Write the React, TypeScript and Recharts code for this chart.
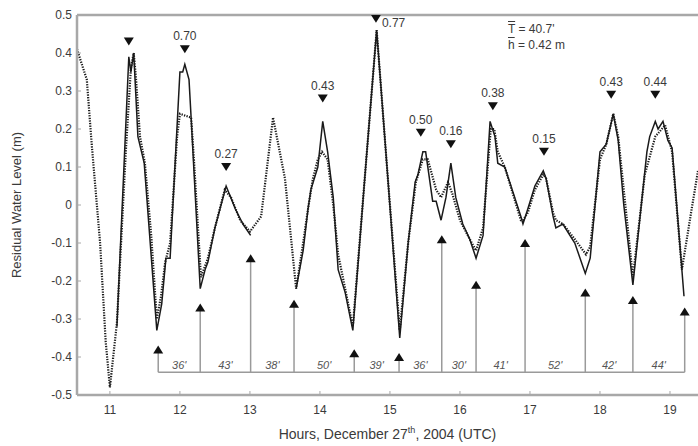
import React from "react";
import {
  ComposedChart, Line, Scatter, XAxis, YAxis, ReferenceLine, Label
} from "recharts";

// observed residual water level (solid), null = gap in record
const obsHours = [
  11.10, 11.27, 11.30, 11.34, 11.40, 11.49, 11.67, 11.74, 11.80, 11.86, 12.00, 12.04, 12.07, 12.13,
  12.16, 12.29, 12.36, 12.40, 12.50, 12.66, 12.79, 12.90, 13.01, 13.30, 13.66, 13.76, 13.83, 13.87,
  13.97, 14.04, 14.11, 14.19, 14.26, 14.36, 14.47, 14.64, 14.81, 14.97, 15.14, 15.26, 15.36, 15.40,
  15.47, 15.51, 15.61, 15.66, 15.73, 15.80, 15.87, 15.94, 16.04, 16.14, 16.23, 16.33, 16.43, 16.50,
  16.54, 16.64, 16.87, 16.90, 16.97, 17.07, 17.19, 17.23, 17.33, 17.37, 17.47, 17.57, 17.64, 17.79,
  17.86, 18.00, 18.09, 18.19, 18.26, 18.34, 18.47, 18.67, 18.71, 18.79, 18.83, 18.90, 18.97, 19.03,
  19.20
];
const obsLevel = [
  -0.32, 0.39, 0.35, 0.40, 0.18, 0.11, -0.33, -0.26, -0.14, -0.14, 0.35, 0.35, 0.37, 0.33,
  0.23, -0.22, -0.17, -0.15, -0.06, 0.05, -0.01, -0.05, -0.08, null, -0.22, -0.12, -0.01, 0.04,
  0.10, 0.22, 0.14, 0.02, -0.17, -0.23, -0.33, 0.07, 0.46, 0.07, -0.35, -0.10, 0.06, 0.08,
  0.14, 0.14, 0.01, 0.01, -0.04, 0.02, 0.11, 0.02, -0.05, -0.09, -0.14, -0.08, 0.22, 0.18,
  0.11, 0.10, -0.03, -0.05, -0.01, 0.05, 0.09, 0.07, -0.03, -0.06, -0.05, -0.08, -0.10, -0.18,
  -0.14, 0.14, 0.16, 0.24, 0.17, 0.00, -0.21, 0.14, 0.18, 0.22, 0.20, 0.22, 0.17, 0.15,
  -0.24
];

// modelled residual water level (dotted)
const modelHours = [
  10.53, 10.67, 10.74, 10.86, 10.94, 11.00, 11.10, 11.23, 11.30, 11.34, 11.37, 11.43, 11.50, 11.59,
  11.67, 11.73, 11.79, 11.86, 11.96, 12.00, 12.16, 12.20, 12.30, 12.40, 12.50, 12.64, 12.73, 12.86,
  13.00, 13.16, 13.33, 13.50, 13.66, 13.76, 13.83, 13.90, 13.97, 14.03, 14.11, 14.19, 14.26, 14.36,
  14.47, 14.64, 14.81, 14.97, 15.14, 15.26, 15.37, 15.47, 15.54, 15.66, 15.73, 15.83, 15.89, 16.00,
  16.14, 16.23, 16.33, 16.44, 16.49, 16.54, 16.64, 16.87, 16.90, 16.97, 17.07, 17.19, 17.23, 17.33,
  17.37, 17.47, 17.64, 17.80, 17.86, 18.00, 18.09, 18.19, 18.26, 18.47, 18.64, 18.79, 18.93, 19.03,
  19.17, 19.31, 19.40
];
const modelLevel = [
  0.41, 0.33, 0.16, -0.10, -0.36, -0.48, -0.31, 0.15, 0.36, 0.40, 0.34, 0.18, 0.11, -0.08,
  -0.30, -0.24, -0.15, -0.10, 0.18, 0.24, 0.23, 0.12, -0.19, -0.14, -0.06, 0.04, 0.02, -0.04,
  -0.07, -0.03, 0.23, 0.07, -0.22, -0.10, -0.01, 0.07, 0.12, 0.14, 0.12, 0.00, -0.13, -0.22,
  -0.32, 0.07, 0.46, 0.07, -0.33, -0.10, 0.06, 0.12, 0.12, 0.04, 0.02, 0.06, 0.03, -0.04,
  -0.09, -0.12, -0.06, 0.20, 0.20, 0.14, 0.10, -0.04, -0.04, -0.02, 0.04, 0.08, 0.07, -0.02,
  -0.04, -0.05, -0.09, -0.13, -0.11, 0.12, 0.16, 0.24, 0.18, -0.19, 0.08, 0.18, 0.21, 0.14,
  -0.17, -0.01, 0.09
];

// crest markers and wave heights (m)
const crestHours = [11.27, 12.07, 12.66, 14.04, 14.80, 15.44, 15.87, 16.47, 17.20, 18.16, 18.79];
const crestLevel = [0.43, 0.41, 0.10, 0.28, 0.49, 0.19, 0.16, 0.26, 0.14, 0.29, 0.29];
const crestLabels = ["", "0.70", "0.27", "0.43", "0.77", "0.50", "0.16", "0.38", "0.15", "0.43", "0.44"];

// trough markers and periods (minutes)
const troughHours = [11.69, 12.29, 13.01, 13.63, 14.49, 15.13, 15.74, 16.23, 16.93, 17.79, 18.47, 19.21];
const troughLevel = [-0.38, -0.27, -0.14, -0.26, -0.39, -0.40, -0.09, -0.21, -0.10, -0.23, -0.25, -0.28];
const periodLabels = ["36'", "43'", "38'", "50'", "39'", "36'", "30'", "41'", "52'", "42'", "44'"];
const periodBase = -0.44;

const yTicks = [-0.5, -0.4, -0.3, -0.2, -0.1, 0, 0.1, 0.2, 0.3, 0.4, 0.5];
const xTicks = [11, 12, 13, 14, 15, 16, 17, 18, 19];

const obsData = obsHours.map((h, i) => ({ h, v: obsLevel[i] }));
const modelData = modelHours.map((h, i) => ({ h, v: modelLevel[i] }));
const crestData = crestHours.map((h, i) => ({ h, v: crestLevel[i], label: crestLabels[i], side: crestLabels[i] === "0.77" ? "right" : "top" }));
const troughData = troughHours.map((h, i) => ({ h, v: troughLevel[i] }));
const periodData = periodLabels.map((label, i) => ({ h: (troughHours[i] + troughHours[i + 1]) / 2, v: periodBase, label }));

const FONT = "'Liberation Sans', Arial, sans-serif";
const AXIS = "#a8a8a8";
const TXT = "#3a3a3a";

const CrestMark = (props: any) => {
  const { cx, cy, payload } = props;
  return (
    <g>
      <path d={`M${cx - 5},${cy - 4}L${cx + 5},${cy - 4}L${cx},${cy + 4}Z`} fill="#111" />
      {payload.label ? (
        payload.side === "right" ? (
          <text x={cx + 6} y={cy + 8} fontSize={12} fill={TXT} fontFamily={FONT}>{payload.label}</text>
        ) : (
          <text x={cx} y={cy - 9} fontSize={12} fill={TXT} fontFamily={FONT} textAnchor="middle">{payload.label}</text>
        )
      ) : null}
    </g>
  );
};

const TroughMark = (props: any) => {
  const { cx, cy } = props;
  return <path d={`M${cx - 5},${cy + 4}L${cx + 5},${cy + 4}L${cx},${cy - 4}Z`} fill="#111" />;
};

const PeriodText = (props: any) => {
  const { cx, cy, payload } = props;
  return (
    <text x={cx} y={cy - 3} fontSize={11} fill="#555" fontStyle="italic" fontFamily={FONT} textAnchor="middle">
      {payload.label}
    </text>
  );
};

// tick labels with small inward tick marks
const YTick = (props: any) => {
  const { x, y, payload } = props;
  const t = payload.value;
  return (
    <g>
      <line x1={x + 5} x2={x + 9} y1={y} y2={y} stroke={AXIS} strokeWidth={1} />
      <text x={x} y={y} dy="0.35em" textAnchor="end" fontSize={12} fill={TXT} fontFamily={FONT}>
        {t === 0 ? "0" : t.toFixed(1)}
      </text>
    </g>
  );
};

const XTick = (props: any) => {
  const { x, y, payload } = props;
  return (
    <g>
      <line x1={x} x2={x} y1={y - 10} y2={y - 14} stroke={AXIS} strokeWidth={1} />
      <text x={x} y={y} dy="0.71em" textAnchor="middle" fontSize={12} fill={TXT} fontFamily={FONT}>
        {payload.value}
      </text>
    </g>
  );
};

const XTitle = (props: any) => {
  const vb = props.viewBox || {};
  const x = vb.x + vb.width / 2;
  return (
    <text x={x} y={439} fontSize={14} fill={TXT} fontFamily={FONT} textAnchor="middle">
      Hours, December 27<tspan fontSize={9} dy={-6}>th</tspan><tspan dy={6}>, 2004 (UTC)</tspan>
    </text>
  );
};

export default function App() {
  return (
    <div style={{ position: "absolute", left: 0, top: 0, width: 698, height: 446, background: "#fff", fontFamily: FONT }}>
      <ComposedChart width={698} height={446} margin={{ top: 15, right: 0, bottom: 21, left: 30 }}>
        <XAxis
          dataKey="h"
          type="number"
          domain={[10.53, 19.4]}
          ticks={xTicks}
          allowDataOverflow
          stroke={AXIS}
          strokeWidth={2.5}
          tickLine={false}
          tickSize={3}
          tickMargin={7}
          height={30}
          tick={<XTick />}
        >
          <Label content={<XTitle />} />
        </XAxis>
        <YAxis
          type="number"
          domain={[-0.5, 0.5]}
          ticks={yTicks}
          allowDataOverflow
          width={47}
          stroke={AXIS}
          strokeWidth={2.5}
          tickLine={false}
          tickSize={3}
          tickMargin={2}
          tick={<YTick />}
        >
          <Label
            value="Residual Water Level (m)"
            angle={-90}
            position="center"
            dx={-37}
            style={{ fontSize: 13, fill: TXT, fontFamily: FONT, textAnchor: "middle" }}
          />
        </YAxis>
        <ReferenceLine y={0.5} stroke={AXIS} strokeWidth={2.5} />
        <ReferenceLine
          segment={[{ x: troughHours[0], y: periodBase }, { x: troughHours[troughHours.length - 1], y: periodBase }]}
          stroke="#9a9a9a"
          strokeWidth={1.5}
        />
        {troughHours.map((h, i) => (
          <ReferenceLine
            key={"stem" + i}
            segment={[{ x: h, y: periodBase }, { x: h, y: troughLevel[i] }]}
            stroke="#9a9a9a"
            strokeWidth={1.5}
          />
        ))}
        <Line
          data={modelData}
          dataKey="v"
          type="linear"
          stroke="#1a1a1a"
          strokeWidth={2.2}
          strokeDasharray="1.3 1.3"
          dot={false}
          isAnimationActive={false}
        />
        <Line
          data={obsData}
          dataKey="v"
          type="linear"
          stroke="#1a1a1a"
          strokeWidth={1.5}
          dot={false}
          connectNulls={false}
          isAnimationActive={false}
        />
        <Scatter data={crestData} dataKey="v" shape={<CrestMark />} isAnimationActive={false} />
        <Scatter data={troughData} dataKey="v" shape={<TroughMark />} isAnimationActive={false} />
        <Scatter data={periodData} dataKey="v" shape={<PeriodText />} isAnimationActive={false} />
      </ComposedChart>
      <div style={{ position: "absolute", left: 508, top: 21, fontSize: 12, lineHeight: "16px", color: TXT }}>
        <div><span style={{ textDecoration: "overline" }}>T</span> = 40.7'</div>
        <div><span style={{ textDecoration: "overline" }}>h</span> = 0.42 m</div>
      </div>
    </div>
  );
}
